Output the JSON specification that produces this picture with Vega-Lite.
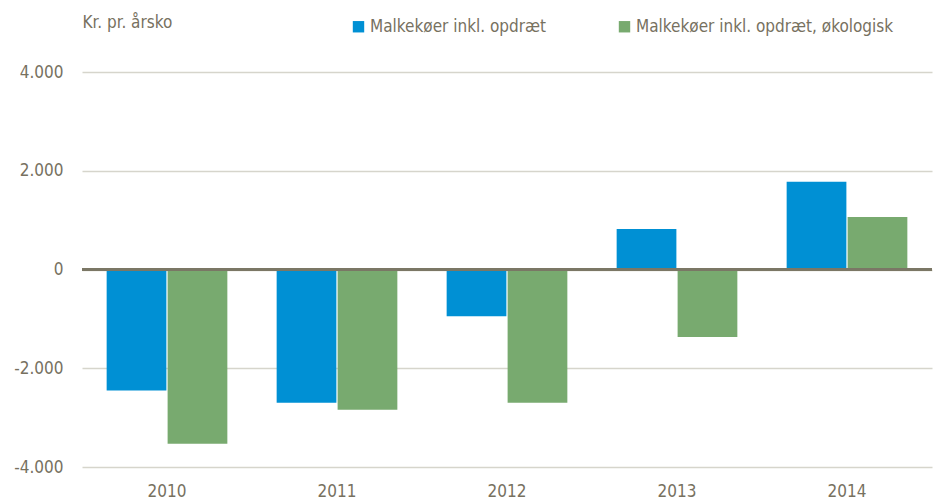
{
  "$schema": "https://vega.github.io/schema/vega-lite/v6.json",
  "width": 850,
  "height": 395,
  "autosize": {"type": "none"},
  "padding": {"left": 82, "top": 72, "right": 1, "bottom": 35},
  "config": {
    "view": {"stroke": null},
    "font": "'Liberation Sans Narrow', 'DejaVu Sans Condensed', 'Liberation Sans', sans-serif",
    "locale": {"number": {"decimal": ",", "thousands": ".", "grouping": [3], "currency": ["", " kr."], "minus": "-"}}
  },
  "data": {
    "values": [
      {"year": "2010", "series": "Malkekøer inkl. opdræt", "value": -2450},
      {"year": "2010", "series": "Malkekøer inkl. opdræt, økologisk", "value": -3530},
      {"year": "2011", "series": "Malkekøer inkl. opdræt", "value": -2700},
      {"year": "2011", "series": "Malkekøer inkl. opdræt, økologisk", "value": -2840},
      {"year": "2012", "series": "Malkekøer inkl. opdræt", "value": -945},
      {"year": "2012", "series": "Malkekøer inkl. opdræt, økologisk", "value": -2700},
      {"year": "2013", "series": "Malkekøer inkl. opdræt", "value": 820},
      {"year": "2013", "series": "Malkekøer inkl. opdræt, økologisk", "value": -1365},
      {"year": "2014", "series": "Malkekøer inkl. opdræt", "value": 1775},
      {"year": "2014", "series": "Malkekøer inkl. opdræt, økologisk", "value": 1065}
    ]
  },
  "layer": [
    {
      "mark": {"type": "bar"},
      "encoding": {
        "x": {
          "field": "year", "type": "nominal",
          "scale": {"paddingInner": 0.29, "paddingOuter": 0.145},
          "axis": {"title": null, "domain": false, "ticks": false, "labelAngle": 0, "labelFontSize": 17, "labelColor": "#77715f", "labelPadding": 16}
        },
        "xOffset": {"field": "series", "type": "nominal", "scale": {"paddingInner": 0.02}},
        "y": {
          "field": "value", "type": "quantitative",
          "scale": {"domain": [-4000, 4000], "nice": false},
          "axis": {
            "values": [-4000, -2000, 0, 2000, 4000],
            "format": ",d",
            "domain": false, "ticks": false,
            "gridColor": "#d6d5cc", "gridWidth": 1.5,
            "labelFontSize": 17, "labelColor": "#77715f", "labelPadding": 19,
            "title": "Kr. pr. årsko", "titleAngle": 0, "titleX": 0, "titleY": -50,
            "titleAlign": "left", "titleBaseline": "middle",
            "titleFontSize": 17, "titleFontWeight": "normal", "titleColor": "#77715f"
          }
        },
        "color": {
          "field": "series", "type": "nominal",
          "scale": {"range": ["#0090d4", "#78aa6f"]},
          "legend": {
            "title": null, "orient": "none", "direction": "horizontal",
            "legendX": 268, "legendY": -54,
            "symbolType": "square", "symbolSize": 130, "symbolStrokeWidth": 0,
            "labelFontSize": 17, "labelColor": "#77715f", "labelOffset": 3, "labelLimit": 400,
            "columnPadding": 69
          }
        }
      }
    },
    {
      "mark": {"type": "rule", "color": "#7b7766", "strokeWidth": 2.5},
      "encoding": {"y": {"datum": 0, "type": "quantitative"}}
    }
  ]
}
